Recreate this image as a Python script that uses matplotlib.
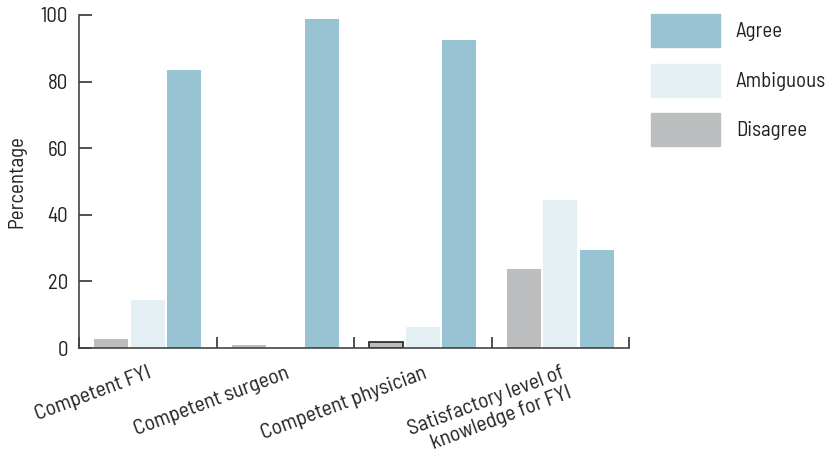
import matplotlib
matplotlib.use("Agg")
import matplotlib.pyplot as plt
import numpy as np
from matplotlib.patches import Patch

plt.rcParams['font.family'] = ['Barlow Semi Condensed', 'Roboto Condensed', 'DejaVu Sans']

categories = ["Competent FYI", "Competent surgeon", "Competent physician",
              "Satisfactory level of\nknowledge for FYI"]
disagree = [2.8, 1.0, 1.8, 23.8]
ambiguous = [14.5, 0.3, 6.3, 44.3]
agree = [83.5, 98.8, 92.5, 29.3]
series_names = ["Disagree", "Ambiguous", "Agree"]
colors = {"Disagree": "#bcbdbf", "Ambiguous": "#e4f0f3", "Agree": "#97c3d2"}
yticks = [0, 20, 40, 60, 80, 100]

fs = 15
fig = plt.figure(figsize=(8.27, 4.54), dpi=100)
ax = fig.add_axes([79/827, 1-348/454, (629-79)/827, (348-15)/454])

x = np.arange(len(categories))
w = 0.247
off = 0.265
vals = {"Disagree": disagree, "Ambiguous": ambiguous, "Agree": agree}
for i, name in enumerate(series_names):
    bars = ax.bar(x + (i-1)*off, vals[name], width=w, color=colors[name], linewidth=0)
    if name == "Disagree":
        bars[2].set_edgecolor("#222222")
        bars[2].set_linewidth(1.2)

ax.set_xlim(-0.5, 3.5)
ax.set_ylim(0, 100)
ax.set_yticks(yticks)
ax.set_yticklabels([str(t) for t in yticks], fontsize=fs, color="#222222")
ax.set_xticks(np.arange(-0.5, 4.0, 1.0), minor=False)
ax.set_xticklabels([""]*5)
ax.set_xticks(x, minor=True)
ax.set_xticklabels(categories, minor=True, rotation=20.5, ha="right",
                   rotation_mode="anchor", fontsize=15.5, color="#222222",
                   multialignment="right", linespacing=1.12)
ax.tick_params(axis="x", which="minor", length=0, pad=11)
ax.tick_params(axis="x", which="major", direction="in", length=8, width=1.2, color="#333333")
ax.tick_params(axis="y", direction="in", length=9, width=1.2, color="#333333", pad=8)
for s in ["top", "right"]:
    ax.spines[s].set_visible(False)
for s in ["left", "bottom"]:
    ax.spines[s].set_color("#444444")
    ax.spines[s].set_linewidth(1.2)
ax.set_ylabel("Percentage", fontsize=fs, color="#222222", labelpad=10)

handles = [Patch(color=colors[n], label=n) for n in ["Agree", "Ambiguous", "Disagree"]]
pxfs = fs * 100 / 72
H = 33.0
hh = (H/pxfs - 0.245) / 0.65
leg = fig.legend(handles=handles, loc="upper left",
                 bbox_to_anchor=(651/827, 1-14/454), frameon=False,
                 fontsize=fs, handlelength=69/pxfs, handleheight=hh,
                 labelspacing=16.5/pxfs, handletextpad=16/pxfs, borderpad=0,
                 borderaxespad=0)
for t in leg.get_texts():
    t.set_color("#222222")

fig.savefig("out.png", dpi=100)
